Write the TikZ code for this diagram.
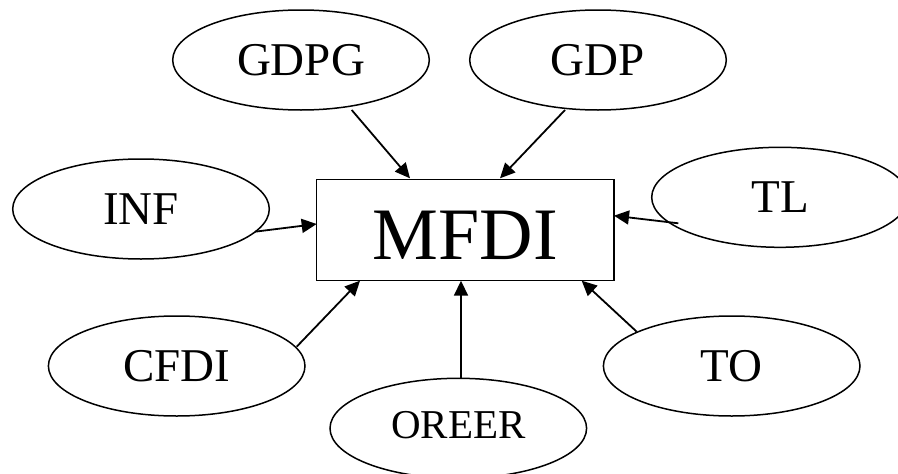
\documentclass[tikz,border=0pt]{standalone}
\usepackage{fontspec}
\setmainfont{Liberation Serif}
\usetikzlibrary{shapes.geometric,arrows.meta}
\tikzset{
  oval/.style={ellipse, draw, line width=1.5pt, inner sep=0pt,
    minimum width=256.6pt, minimum height=100pt,
    font=\fontsize{47}{50}\selectfont},
  mainbox/.style={rectangle, draw, line width=1.3pt, inner sep=0pt,
    minimum width=297.3pt, minimum height=101.3pt,
    text height=58pt, text depth=0pt,
    font=\fontsize{74}{80}\selectfont},
  link/.style={line width=1.8pt, -{Triangle[length=15pt,width=14pt]}}
}
\begin{document}
\begin{tikzpicture}[x=1pt,y=-1pt]
\clip (0,0) rectangle (898,474);
\fill[white] (0,0) rectangle (898,474);
\node[mainbox] (m) at (465.3,230) {MFDI};
\node[oval] (gdpg) at (301,60) {GDPG};
\node[oval] (gdp) at (598,60) {GDP};
\node[oval] (inf) at (141,209) {INF};
\node[oval] (tl) at (780,197.3) {TL};
\node[oval] (cfdi) at (176.7,366) {CFDI};
\node[oval, font=\fontsize{41}{44}\selectfont, text height=20pt, text depth=0pt] (oreer) at (458.3,428.3) {OREER};
\node[oval] (to) at (731.7,366) {TO};
\draw[link] ([shift={(50.7,50)}]gdpg.center) -- ([shift={(-55.3,-51.7)}]m.center);
\draw[link] ([shift={(-33,50)}]gdp.center) -- ([shift={(34.7,-51.7)}]m.center);
\draw[link] ([shift={(114,22.7)}]inf.center) -- ([shift={(-148.6,-6)}]m.center);
\draw[link] ([shift={(-101.7,26)}]tl.center) -- ([shift={(148.7,-14.3)}]m.center);
\draw[link] ([shift={(120,-19.3)}]cfdi.center) -- ([shift={(-105.3,50.7)}]m.center);
\draw[link] ([shift={(2.7,-50)}]oreer.center) -- ([shift={(-4.3,50.7)}]m.center);
\draw[link] ([shift={(-95,-34.3)}]to.center) -- ([shift={(116.4,50.7)}]m.center);
\end{tikzpicture}
\end{document}
